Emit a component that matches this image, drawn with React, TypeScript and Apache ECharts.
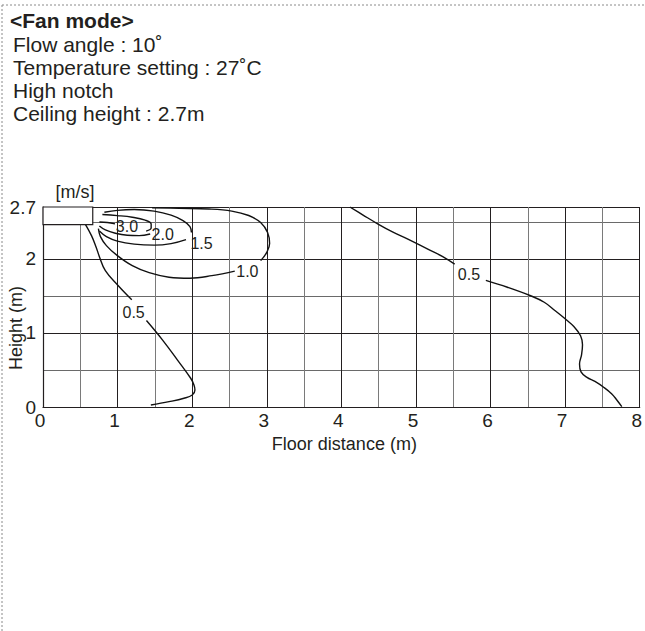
import React, { useEffect, useRef } from 'react';
import * as echarts from 'echarts';

// ---- data ----
const xMin = 0;
const xMax = 8;
const yMin = 0;
const yMax = 2.7;
const gridStep = 0.5;
const yLabelValues = [0, 1, 2, 2.7];

const headerLines = ['<Fan mode>', 'Flow angle : 10˚', 'Temperature setting : 27˚C', 'High notch', 'Ceiling height : 2.7m'];
const unitName = '[m/s]';
const xName = 'Floor distance (m)';
const yName = 'Height (m)';

// indoor unit outlet box: [x0, y0, x1, y1]
const unitBox = [[0, 2.7, 0.667, 2.463]];

// iso-velocity contours
const c30 = [[0.756, 2.497], [0.863, 2.49], [0.965, 2.472]];
const c20Top = [[0.796, 2.598], [0.997, 2.584], [1.197, 2.562], [1.37, 2.522], [1.45, 2.47], [1.45, 2.415], [1.383, 2.375]];
const c20Bottom = [[0.756, 2.443], [0.836, 2.39], [0.97, 2.345], [1.13, 2.318], [1.29, 2.313], [1.437, 2.335]];
const c15Top = [[0.823, 2.629], [0.997, 2.655], [1.223, 2.666], [1.49, 2.645], [1.717, 2.591], [1.877, 2.517], [1.97, 2.436], [1.99, 2.355]];
const c15Bottom = [[0.756, 2.375], [0.85, 2.3], [0.997, 2.24], [1.223, 2.199], [1.49, 2.185], [1.717, 2.206], [1.917, 2.26]];
const c10Top = [[1.463, 2.69], [1.824, 2.682], [2.224, 2.673], [2.531, 2.645], [2.758, 2.585], [2.918, 2.49], [3.011, 2.355], [3.038, 2.206], [2.998, 2.084], [2.918, 1.976]];
const c10Bottom = [[0.743, 2.409], [0.77, 2.3], [0.85, 2.179], [0.997, 2.043], [1.197, 1.908], [1.423, 1.813], [1.69, 1.752], [1.97, 1.739], [2.264, 1.773], [2.571, 1.834]];
const c05LeftUpper = [[0.57, 2.463], [0.65, 2.314], [0.71, 2.165], [0.756, 2.03], [0.836, 1.84], [1.003, 1.644], [1.19, 1.448]];
const c05LeftLower = [[1.387, 1.168], [1.601, 0.907], [1.801, 0.636], [1.98, 0.388], [2.024, 0.298], [2.037, 0.23], [2.001, 0.162], [1.89, 0.118], [1.69, 0.072], [1.446, 0.027]];
const c05RightUpper = [[4.114, 2.7], [4.291, 2.591], [4.492, 2.47], [4.692, 2.361], [4.892, 2.267], [5.159, 2.131], [5.359, 2.03], [5.519, 1.928]];
const c05RightLower = [[5.937, 1.709], [6.226, 1.617], [6.537, 1.502], [6.72, 1.414], [6.867, 1.299], [7.0, 1.191], [7.12, 1.083], [7.207, 0.961], [7.233, 0.839], [7.22, 0.704], [7.193, 0.582], [7.213, 0.474], [7.293, 0.399], [7.4, 0.345], [7.52, 0.264], [7.626, 0.176], [7.693, 0.095], [7.76, 0.004]];

const contourLabels = [
  [1.125, 2.44, '3.0'],
  [1.605, 2.327, '2.0'],
  [2.125, 2.206, '1.5'],
  [2.74, 1.827, '1.0'],
  [1.215, 1.279, '0.5'],
  [5.71, 1.786, '0.5'],
];

const contourSegments = [c30, c20Top, c20Bottom, c15Top, c15Bottom, c10Top, c10Bottom, c05LeftUpper, c05LeftLower, c05RightUpper, c05RightLower];

const FONT = '"Liberation Sans", Arial, Helvetica, sans-serif';
const INK = '#231f20';

export default function App() {
  const ref = useRef<HTMLDivElement>(null);

  useEffect(() => {
    if (!ref.current) return;
    const chart = echarts.init(ref.current, undefined, { renderer: 'svg' });

    const headerY = [20, 44, 67, 90, 113];
    const graphics: any[] = headerLines.map((t, i) => ({
      type: 'text',
      x: i === 0 ? 10 : 13,
      y: headerY[i],
      style: {
        text: t,
        fill: INK,
        font: `${i === 0 ? 'bold ' : ''}21px ${FONT}`,
        align: 'left',
        verticalAlign: 'middle',
      },
    }));
    graphics.push(
      {
        type: 'line',
        shape: { x1: 2, y1: 5, x2: 645, y2: 5 },
        style: { stroke: '#8a8a8a', lineWidth: 1, lineDash: [2, 2] },
      },
      {
        type: 'line',
        shape: { x1: 2, y1: 5, x2: 2, y2: 631 },
        style: { stroke: '#8a8a8a', lineWidth: 1, lineDash: [2, 2] },
      },
      {
        type: 'text',
        x: 75,
        y: 192,
        style: { text: unitName, fill: INK, font: `18px ${FONT}`, align: 'center', verticalAlign: 'middle' },
      },
      {
        type: 'text',
        x: 15.5,
        y: 328,
        rotation: Math.PI / 2,
        style: { text: yName, fill: INK, font: `18px ${FONT}`, align: 'center', verticalAlign: 'middle' },
      }
    );

    const lineSeries = contourSegments.map((seg) => ({
      type: 'line',
      data: seg,
      smooth: 0.4,
      showSymbol: false,
      symbol: 'none',
      silent: true,
      lineStyle: { color: '#111', width: 1.4 },
      z: 3,
    }));

    chart.setOption({
      animation: false,
      grid: { left: 43, top: 207, width: 600, height: 200, containLabel: false },
      xAxis: {
        type: 'value',
        min: xMin,
        max: xMax,
        interval: gridStep,
        name: xName,
        nameLocation: 'middle',
        nameGap: 28,
        nameTextStyle: { color: INK, fontSize: 18, fontFamily: FONT, padding: [0, 0, 0, 6] },
        axisLine: { show: true, lineStyle: { color: INK, width: 1.2 } },
        axisTick: { show: false },
        axisLabel: {
          color: INK,
          fontSize: 19,
          fontFamily: FONT,
          margin: 4,
          padding: [0, 6, 0, 0],
          showMinLabel: true,
          showMaxLabel: true,
          formatter: (v: number) => (Math.abs(v - Math.round(v)) < 1e-9 ? String(Math.round(v)) : ''),
        },
        splitLine: { show: true, lineStyle: { color: [INK, '#7a7a7a'], width: 1 } },
      },
      yAxis: {
        type: 'value',
        min: yMin,
        max: yMax,
        interval: gridStep,
        axisLine: { show: true, lineStyle: { color: INK, width: 1.2 } },
        axisTick: { show: false },
        axisLabel: {
          color: INK,
          fontSize: 19,
          fontFamily: FONT,
          margin: 7,
          showMinLabel: true,
          showMaxLabel: true,
          formatter: (v: number) => {
            const hit = yLabelValues.find((l) => Math.abs(l - v) < 1e-9);
            return hit === undefined ? '' : String(hit);
          },
        },
        splitLine: { show: true, lineStyle: { color: [INK, '#6a6a6a'], width: 1 } },
      },
      graphic: graphics,
      series: [
        ...lineSeries,
        {
          type: 'custom',
          silent: true,
          z: 4,
          data: unitBox,
          encode: { x: [0, 2], y: [1, 3] },
          renderItem: (params: any, api: any) => {
            const p1 = api.coord([api.value(0), api.value(1)]);
            const p2 = api.coord([api.value(2), api.value(3)]);
            return {
              type: 'rect',
              shape: { x: p1[0], y: p1[1], width: p2[0] - p1[0], height: p2[1] - p1[1] },
              style: { fill: '#fff', stroke: INK, lineWidth: 1.2 },
            };
          },
        },
        {
          type: 'scatter',
          silent: true,
          symbolSize: 0,
          itemStyle: { color: INK, opacity: 1 },
          data: contourLabels,
          z: 5,
          label: {
            show: true,
            position: 'inside',
            formatter: (p: any) => p.value[2],
            color: INK,
            textBorderWidth: 0,
            textBorderColor: 'transparent',
            opacity: 1,
            fontSize: 16,
            fontFamily: FONT,
          },
        },
      ],
    });

    return () => chart.dispose();
  }, []);

  return (
    <div
      ref={ref}
      style={{ position: 'absolute', left: 0, top: 0, width: 645, height: 631, background: '#fff' }}
    />
  );
}
